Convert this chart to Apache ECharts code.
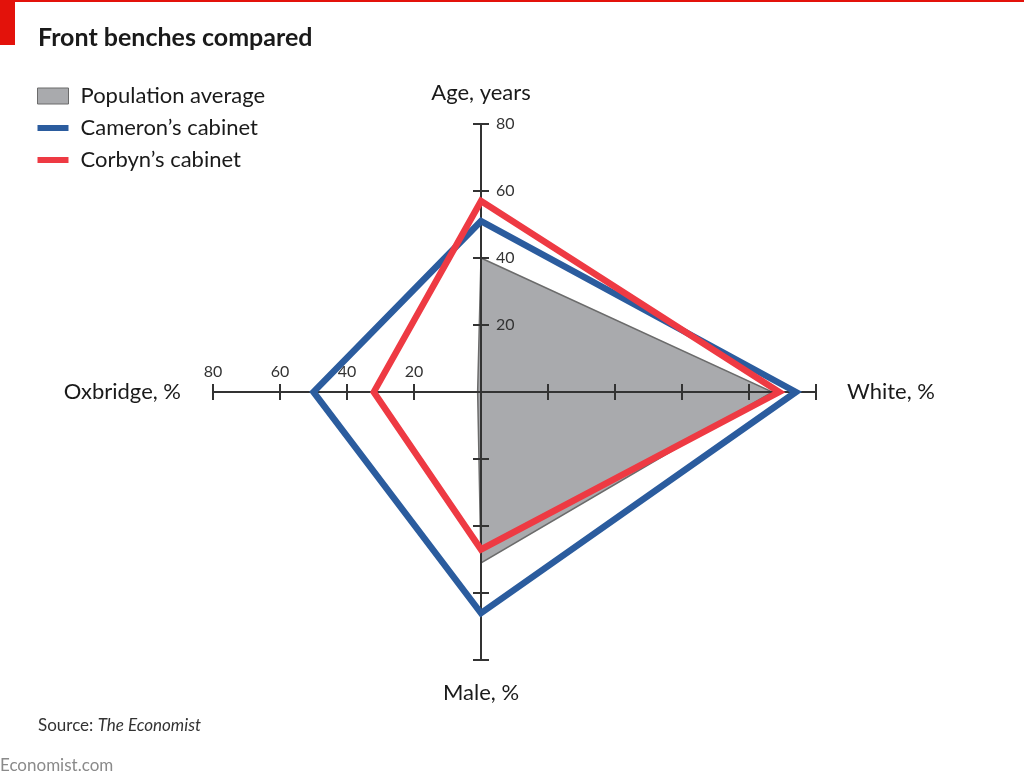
<!DOCTYPE html>
<html>
<head>
<meta charset="utf-8">
<script src="https://cdn.jsdelivr.net/npm/echarts@6/dist/echarts.min.js"></script>
<style>
html,body{margin:0;padding:0;background:#fff;}
#c{width:1024px;height:784px;}
</style>
</head>
<body>
<div id="c"></div>
<script>
// Axes: Age (top), White (right), Male (bottom), Oxbridge (left)
const axisNames = ['Age, years', 'White, %', 'Male, %', 'Oxbridge, %'];
const seriesNames = ['Population average', "Cameron\u2019s cabinet", "Corbyn\u2019s cabinet"];
// values in order [age, white, male, oxbridge]
const populationAverage = [40, 87, 51, 1];
const cameronCabinet = [51, 94, 66, 50];
const corbynCabinet = [57, 89, 47, 32];
const tickValues = [20, 40, 60, 80];

const FONT = 'Lato';
const W = 1024, H = 784;
const GRID = {left: 213, right: 208, top: 124, bottom: 124};
const X_MIN = -80, X_MAX = 100, Y_MIN = -80, Y_MAX = 80;
// pixel distance of the zero lines from the grid edges (axes cross at 0,0)
const plotW = W - GRID.left - GRID.right, plotH = H - GRID.top - GRID.bottom;
const zeroFromLeft = plotW * (0 - X_MIN) / (X_MAX - X_MIN);
const zeroFromRight = plotW - zeroFromLeft;
const zeroFromTop = plotH * (Y_MAX - 0) / (Y_MAX - Y_MIN);
const zeroFromBottom = plotH - zeroFromTop;

const chart = echarts.init(document.getElementById('c'), null, {renderer: 'canvas'});

function polygonRenderer(fill, stroke, lineWidth) {
  return function (params, api) {
    const a = api.value(0), w = api.value(1), m = api.value(2), o = api.value(3);
    const pts = [api.coord([0, a]), api.coord([w, 0]), api.coord([0, -m]), api.coord([-o, 0])];
    return {
      type: 'polygon',
      shape: {points: pts},
      style: {fill: fill, stroke: stroke, lineWidth: lineWidth, lineJoin: 'miter', miterLimit: 20}
    };
  };
}

const axisLineStyle = {color: '#333333', width: 2};
const nameStyle = {fontFamily: FONT, fontSize: 22, color: '#1a1a1a'};

const option = {
  backgroundColor: '#ffffff',
  animation: false,
  textStyle: {fontFamily: FONT},
  graphic: [
    {type: 'rect', left: 0, top: 0, shape: {width: 1024, height: 2}, style: {fill: '#e3120b'}},
    {type: 'rect', left: 0, top: 0, shape: {width: 15, height: 45}, style: {fill: '#e3120b'}},
    {type: 'text', left: 38, top: 25, style: {text: 'Front benches compared', font: 'bold 25px ' + FONT, fill: '#1a1a1a'}},
    {type: 'text', left: 38, top: 717, style: {
      text: '{a|Source: }{b|The Economist}',
      rich: {
        a: {font: '17px ' + FONT, fill: '#333'},
        b: {font: 'italic 17px ' + FONT, fill: '#333'}
      }
    }},
    {type: 'text', left: 0, top: 757, style: {text: 'Economist.com', font: '17px ' + FONT, fill: '#8a8a8a'}}
  ],
  legend: {
    orient: 'vertical',
    left: 32,
    top: 80,
    itemWidth: 31,
    itemHeight: 16,
    itemGap: 10,
    selectedMode: false,
    textStyle: {fontFamily: FONT, fontSize: 22, color: '#1a1a1a', padding: [0, 0, 0, 7]},
    data: [
      {name: seriesNames[0], icon: 'rect', itemStyle: {color: '#a9aaad', borderColor: '#6b6b6b', borderWidth: 1}},
      {name: seriesNames[1], icon: 'path://M0,0H31V6H0Z', itemStyle: {color: '#2b5c9e', borderWidth: 0}},
      {name: seriesNames[2], icon: 'path://M0,0H31V6H0Z', itemStyle: {color: '#ee3a43', borderWidth: 0}}
    ]
  },
  grid: Object.assign({containLabel: false}, GRID),
  xAxis: [
    {
      type: 'value', min: X_MIN, max: X_MAX, interval: 20, position: 'bottom', offset: -zeroFromBottom,
      axisLine: {show: true, onZero: false, lineStyle: axisLineStyle},
      axisTick: {show: true, inside: false, length: 8, lineStyle: axisLineStyle},
      axisLabel: {show: false},
      splitLine: {show: false},
      name: axisNames[1], nameLocation: 'end', nameGap: 31,
      nameTextStyle: Object.assign({align: 'left', verticalAlign: 'middle'}, nameStyle)
    },
    {
      type: 'value', min: X_MIN, max: X_MAX, interval: 20, position: 'top', offset: -zeroFromTop,
      axisLine: {show: true, onZero: false, lineStyle: axisLineStyle},
      axisTick: {show: true, inside: false, length: 8, lineStyle: axisLineStyle},
      axisLabel: {show: true, margin: 12, fontFamily: FONT, fontSize: 16, color: '#333',
        formatter: function (v) { return v < 0 ? String(-v) : ''; }},
      splitLine: {show: false},
      name: axisNames[3], nameLocation: 'start', nameGap: 32,
      nameTextStyle: Object.assign({align: 'right', verticalAlign: 'middle'}, nameStyle)
    }
  ],
  yAxis: [
    {
      type: 'value', min: Y_MIN, max: Y_MAX, interval: 20, position: 'left', offset: -zeroFromLeft,
      axisLine: {show: true, onZero: false, lineStyle: axisLineStyle},
      axisTick: {show: true, inside: false, length: 8, lineStyle: axisLineStyle},
      axisLabel: {show: false},
      splitLine: {show: false},
      name: axisNames[0], nameLocation: 'end', nameGap: 20,
      nameTextStyle: Object.assign({align: 'center', verticalAlign: 'bottom'}, nameStyle)
    },
    {
      type: 'value', min: Y_MIN, max: Y_MAX, interval: 20, position: 'right', offset: -zeroFromRight,
      axisLine: {show: true, onZero: false, lineStyle: axisLineStyle},
      axisTick: {show: true, inside: false, length: 8, lineStyle: axisLineStyle},
      axisLabel: {show: true, margin: 15, fontFamily: FONT, fontSize: 16, color: '#333',
        formatter: function (v) { return tickValues.indexOf(v) >= 0 ? String(v) : ''; }},
      splitLine: {show: false},
      name: axisNames[2], nameLocation: 'start', nameGap: 22,
      nameTextStyle: Object.assign({align: 'center', verticalAlign: 'top'}, nameStyle)
    }
  ],
  series: [
    {
      name: seriesNames[0], type: 'custom', coordinateSystem: 'cartesian2d', z: -1,
      itemStyle: {color: '#a9aaad'},
      renderItem: polygonRenderer('#a9aaad', '#6b6b6b', 1.5),
      data: [populationAverage], clip: false
    },
    {
      name: seriesNames[1], type: 'custom', coordinateSystem: 'cartesian2d', z: 3,
      itemStyle: {color: '#2b5c9e'},
      renderItem: polygonRenderer(null, '#2b5c9e', 6.5),
      data: [cameronCabinet], clip: false
    },
    {
      name: seriesNames[2], type: 'custom', coordinateSystem: 'cartesian2d', z: 4,
      itemStyle: {color: '#ee3a43'},
      renderItem: polygonRenderer(null, '#ee3a43', 6.5),
      data: [corbynCabinet], clip: false
    }
  ]
};
chart.setOption(option);
</script>
</body>
</html>
